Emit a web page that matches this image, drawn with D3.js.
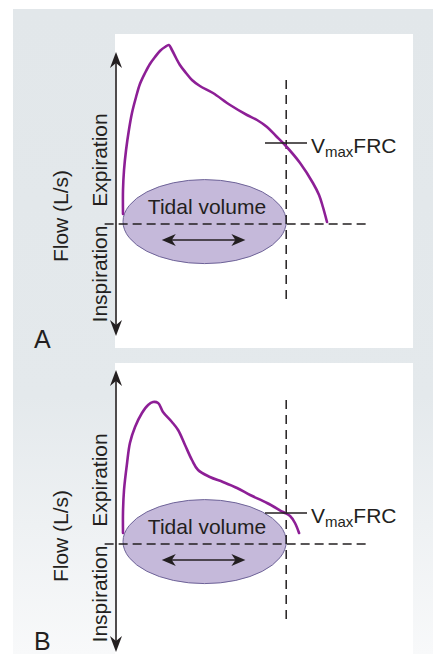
<!DOCTYPE html>
<html>
<head>
<meta charset="utf-8">
<script src="https://cdn.jsdelivr.net/npm/d3@7"></script>
<style>
  body { margin: 0; background: #fff; }
  svg { display: block; font-family: 'Liberation Sans', Arial, sans-serif; }
</style>
</head>
<body>
<div id="chart"></div>
<script>
// flow-volume loops, volume in % of trace, flow in arbitrary units
const panelLabels = ['A', 'B'];
const curveA = [[0,0.5],[0,1.7],[0.5,2.7],[1.5,3.7],[2.9,4.7],[4.4,5.55],[6.4,6.35],[8.3,7.0],[10.8,7.55],
  [13.2,8.0],[15.7,8.35],[18.1,8.65],[20.6,8.85],[22.5,8.95],[24.0,8.7],[26.0,8.3],[27.9,7.95],[30.9,7.55],
  [33.8,7.2],[37.7,6.9],[44.1,6.55],[52.5,5.95],[60.8,5.45],[65.7,5.2],[70.6,4.85],[75.0,4.4],
  [79.4,3.95],[86.8,3.05],[93.1,2.05],[96.1,1.45],[98.0,0.85],[100,0.1]];
const curveB = [[0,0.55],[0,1.6],[0.5,2.7],[2.0,4.05],[3.4,5.05],[5.9,5.85],[9.3,6.55],[12.3,6.95],[14.7,7.1],
  [17.2,7.05],[19.6,6.6],[24.0,6.1],[27.0,5.7],[30.4,4.95],[33.8,4.2],[36.8,3.7],[42.6,3.35],[49.0,3.1],
  [55.9,2.8],[62.3,2.45],[70.6,2.05],[78.4,1.6],[81.9,1.4],[84.3,1.05],[86.3,0.55]];
const curves = [curveA, curveB];
const frcVolume = 80;
const vmaxFlow = [4.05, 1.55];
const tidalVolume = [0, 80];
const tidalArrow = [19, 60];
const axisTop = [8.6, 8.7];
const axisBottom = [-5.6, -5.4];
const zeroLineVolume = [-9, 120];
const frcLineFlow = [7.2, -3.75];
const axisTitles = ['Flow (L/s)', 'Expiration', 'Inspiration'];

const width = 433, height = 654;
const panelZero = [224, 544];
const panelTop = [34, 363], panelBottom = [348, 654];
const fontSize = 21;
const purple = '#8d1f96';
const ink = '#231f20';

let svg = d3.select('#chart').append('svg').attr('width', width).attr('height', height);

let grad = svg.append('defs').append('linearGradient').attr('id', 'bg')
  .attr('x1', 0).attr('y1', 0).attr('x2', 0).attr('y2', 1);
grad.append('stop').attr('offset', 0).attr('stop-color', '#e2e7ea');
grad.append('stop').attr('offset', 0.6).attr('stop-color', '#e4e9ec');
grad.append('stop').attr('offset', 1).attr('stop-color', '#f8f9fa');

svg.append('rect').attr('x', 13).attr('y', 9).attr('width', width - 13).attr('height', height - 9)
  .attr('fill', 'url(#bg)');

let x = d3.scaleLinear().domain([0, 100]).range([123, 327]);

let arrowHead = function(tx, ty, dx, dy, len, half, notch) {
  // tip at (tx,ty) pointing along (dx,dy)
  let px = -dy, py = dx;
  let bx = tx - dx*len, by = ty - dy*len;
  let nx = tx - dx*notch, ny = ty - dy*notch;
  return 'M'+tx+','+ty+'L'+(bx+px*half)+','+(by+py*half)+'L'+nx+','+ny+'L'+(bx-px*half)+','+(by-py*half)+'Z';
}

let drawPanel = function(i) {
  let zero = panelZero[i];
  let y = d3.scaleLinear().domain([-6, 9]).range([zero + 120, zero - 180]);
  let g = svg.append('g').attr('class', 'panel');

  g.append('rect').attr('x', 115).attr('y', panelTop[i]).attr('width', 298)
    .attr('height', panelBottom[i] - panelTop[i]).attr('fill', '#fff');

  // tidal ellipse
  g.append('ellipse')
    .attr('cx', (x(tidalVolume[0]) + x(tidalVolume[1])) / 2)
    .attr('cy', y(0.12))
    .attr('rx', (x(tidalVolume[1]) - x(tidalVolume[0])) / 2)
    .attr('ry', y(0) - y(2.1))
    .attr('fill', '#c5b9da').attr('stroke', '#6e6398').attr('stroke-width', 1);

  g.append('text').text('Tidal volume')
    .attr('x', 207).attr('y', zero - 10)
    .attr('text-anchor', 'middle').attr('font-size', fontSize).attr('fill', ink);

  // double arrow
  let ay = zero + 16;
  let ax0 = x(tidalArrow[0]), ax1 = x(tidalArrow[1]);
  g.append('line').attr('x1', ax0 + 6).attr('x2', ax1 - 6).attr('y1', ay).attr('y2', ay)
    .attr('stroke', ink).attr('stroke-width', 1.6);
  g.append('path').attr('d', arrowHead(ax0, ay, -1, 0, 14, 6, 10)).attr('fill', ink);
  g.append('path').attr('d', arrowHead(ax1, ay, 1, 0, 14, 6, 10)).attr('fill', ink);

  // dashed reference lines
  g.append('line')
    .attr('x1', x(zeroLineVolume[0])).attr('x2', x(zeroLineVolume[1]))
    .attr('y1', y(0)).attr('y2', y(0))
    .attr('stroke', ink).attr('stroke-width', 1.5).attr('stroke-dasharray', '9,5');
  g.append('line')
    .attr('x1', x(frcVolume)).attr('x2', x(frcVolume))
    .attr('y1', y(frcLineFlow[0])).attr('y2', y(frcLineFlow[1]))
    .attr('stroke', ink).attr('stroke-width', 1.5).attr('stroke-dasharray', '9,6');

  // flow axis
  let axX = 116;
  g.append('line').attr('x1', axX).attr('x2', axX)
    .attr('y1', y(axisTop[i]) + 8).attr('y2', y(axisBottom[i]) - 8)
    .attr('stroke', ink).attr('stroke-width', 1.6);
  g.append('path').attr('d', arrowHead(axX, y(axisTop[i]), 0, -1, 16, 6, 11)).attr('fill', ink);
  g.append('path').attr('d', arrowHead(axX, y(axisBottom[i]), 0, 1, 16, 6, 11)).attr('fill', ink);

  // flow-volume curve
  let line = d3.line().x(function(d){return x(d[0])}).y(function(d){return y(d[1])})
    .curve(d3.curveCatmullRom.alpha(0.5));
  g.append('path').datum(curves[i]).attr('d', line)
    .attr('fill', 'none').attr('stroke', purple).attr('stroke-width', 2.6)
    .attr('stroke-linejoin', 'round').attr('stroke-linecap', 'round');

  // Vmax FRC marker
  let vy = y(vmaxFlow[i]);
  g.append('line').attr('x1', 265).attr('x2', 307).attr('y1', vy).attr('y2', vy)
    .attr('stroke', ink).attr('stroke-width', 1.6);
  let lbl = g.append('text').attr('x', 311).attr('y', vy + 10)
    .attr('font-size', fontSize).attr('fill', ink);
  lbl.append('tspan').text('V');
  lbl.append('tspan').text('max').attr('font-size', 15).attr('dy', 4);
  lbl.append('tspan').text('FRC').attr('dy', -4);

  // axis titles
  let titleX = [68, 107, 107];
  let titleY = [zero - 8, zero - 64, zero + 50];
  axisTitles.forEach(function(t, k){
    g.append('text').text(t)
      .attr('transform', 'translate(' + titleX[k] + ',' + titleY[k] + ') rotate(-90)')
      .attr('text-anchor', 'middle').attr('font-size', fontSize).attr('fill', ink);
  });

  g.append('text').text(panelLabels[i])
    .attr('x', 34).attr('y', i == 0 ? 348 : 650)
    .attr('font-size', 25).attr('fill', ink);
}

panelLabels.forEach(function(p, i){ drawPanel(i); });
</script>
</body>
</html>
